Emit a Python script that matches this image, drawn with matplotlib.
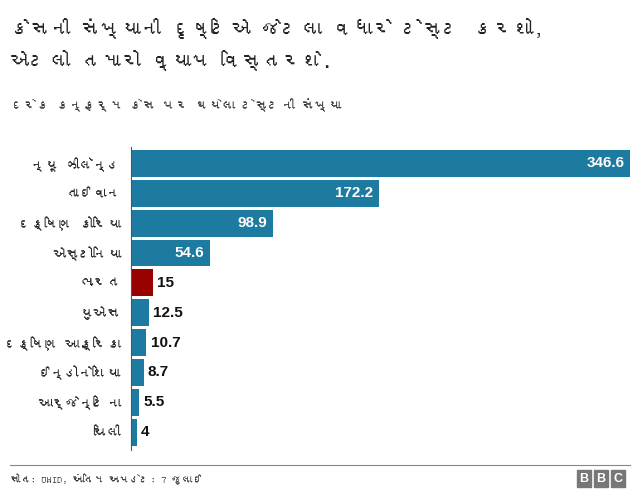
import matplotlib.pyplot as plt
from matplotlib import font_manager
from matplotlib.ft2font import FT2Font
from matplotlib.patches import Rectangle
from matplotlib.lines import Line2D

# look for any installed font that can draw Gujarati
guj_family = None
for f in font_manager.fontManager.ttflist:
    try:
        cmap = FT2Font(f.fname).get_charmap()
    except Exception:
        continue
    if 0x0A95 in cmap and 0x0AC7 in cmap:
        guj_family = f.name
        break

families = ['Liberation Sans', 'DejaVu Sans']
if guj_family:
    families = [guj_family] + families
plt.rcParams['font.family'] = families

countries = ['ન્યૂ ઝીલૅન્ડ', 'તાઈવાન', 'દક્ષિણ કોરિયા', 'એસ્ટોનિયા', 'ભારત',
             'યુએસ', 'દક્ષિણ આફ્રિકા', 'ઈન્ડોનેશિયા', 'આર્જેન્ટિના', 'ચિલી']
tests_per_case = [346.6, 172.2, 98.9, 54.6, 15, 12.5, 10.7, 8.7, 5.5, 4]
value_labels = ['346.6', '172.2', '98.9', '54.6', '15', '12.5', '10.7', '8.7', '5.5', '4']
highlight = 'ભારત'

blue = '#1d7aa0'
red = '#990000'

fig = plt.figure(figsize=(6.4, 4.94), dpi=100)
ax = fig.add_axes([131 / 640, 1 - 450 / 494, 499 / 640, 303 / 494])

colors = [red if c == highlight else blue for c in countries]
ypos = list(range(len(countries)))
ax.barh(ypos, tests_per_case, height=0.9, color=colors)

ax.set_xlim(0, max(tests_per_case))
ax.set_ylim(9.6, -0.55)
ax.set_yticks(ypos)
ax.set_yticklabels(countries, fontsize=10, color='#222222')
ax.tick_params(axis='y', length=0, pad=7)
ax.set_xticks([])
for s in ['top', 'right', 'bottom']:
    ax.spines[s].set_visible(False)
ax.spines['left'].set_color('#555555')

num_font = dict(family=['Liberation Sans', 'DejaVu Sans'], fontsize=11, fontweight='bold')
for y, v, lab in zip(ypos, tests_per_case, value_labels):
    if v > 40:
        ax.text(v - 4, y, lab, ha='right', va='center', color='white', **num_font)
    else:
        ax.text(v + 3, y, lab, ha='left', va='center', color='#111111', **num_font)

fig.text(0.016, 1 - 28 / 494, 'કેસની સંખ્યાની દૃષ્ટિએ જેટલા વધારે ટેસ્ટ કરશો,',
         fontsize=14.5, fontweight='bold', color='#222222', va='center')
fig.text(0.016, 1 - 60 / 494, 'એટલો તમારો વ્યાપ વિસ્તરશે.',
         fontsize=14.5, fontweight='bold', color='#222222', va='center')
fig.text(0.016, 1 - 105 / 494, 'દરેક કન્ફર્મ કેસ પર થયેલા ટેસ્ટની સંખ્યા',
         fontsize=9.5, color='#333333', va='center')

fig.add_artist(Line2D([0.016, 0.984], [1 - 465 / 494, 1 - 465 / 494],
                      color='#888888', linewidth=0.8))
fig.text(0.016, 1 - 479 / 494, 'સોત: OWID, અંતિમ અપડેટ: 7 જુલાઈ',
         fontsize=7.5, color='#333333', va='center')

for i, letter in enumerate('BBC'):
    x0 = (577 + i * 17) / 640
    fig.add_artist(Rectangle((x0, 1 - 487 / 494), 14 / 640, 17 / 494,
                             transform=fig.transFigure, color='#777777'))
    fig.text(x0 + 7 / 640, 1 - 478.5 / 494, letter, ha='center', va='center',
             color='white', fontsize=9, fontweight='bold',
             family=['Liberation Sans', 'DejaVu Sans'])

fig.savefig('out.png', dpi=100)
